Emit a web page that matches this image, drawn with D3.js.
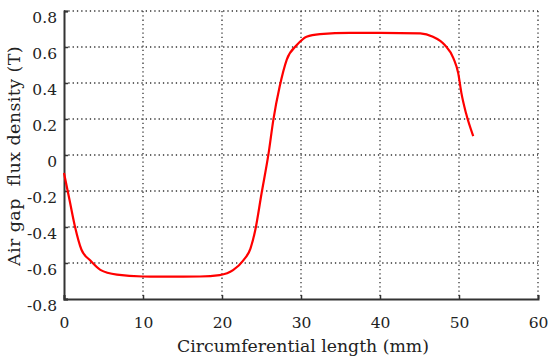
<!DOCTYPE html>
<html>
<head>
<meta charset="utf-8">
<script src="https://cdn.jsdelivr.net/npm/d3@7"></script>
<style>
  body { margin: 0; background: #fff; }
  text { font-family: "DejaVu Serif", serif; fill: #222; }
</style>
</head>
<body>
<svg id="chart" width="550" height="363"></svg>
<script>
// circumferential length (mm) and air gap flux density (T)
var lengthMm = [0, 0.7, 1.4, 2.2, 3.3, 4.6, 6.7, 10, 14, 17.2, 19.7, 21.4, 22.7, 23.6, 24.2, 25.0, 25.9, 26.5, 27.3, 28.2, 29.5, 30.7, 32.4, 36.2, 40, 45.1, 46.7, 48.2, 49.3, 49.9, 50.3, 50.9, 51.8];
var fluxT = [-0.1, -0.25, -0.4, -0.525, -0.585, -0.638, -0.665, -0.675, -0.676, -0.675, -0.667, -0.64, -0.585, -0.52, -0.42, -0.215, 0.01, 0.195, 0.38, 0.53, 0.612, 0.657, 0.672, 0.679, 0.679, 0.676, 0.657, 0.611, 0.537, 0.455, 0.345, 0.23, 0.105];
var xTicks = [0, 10, 20, 30, 40, 50, 60];
var yTicks = [-0.8, -0.6, -0.4, -0.2, 0, 0.2, 0.4, 0.6, 0.8];

var margin = { left: 64, top: 11, right: 12, bottom: 64 };
var width = 538 - margin.left;
var height = 299 - margin.top;

var svg = d3.select("#chart");
var g = svg.append("g").attr("transform", "translate(" + margin.left + "," + margin.top + ")");

var x = d3.scaleLinear().domain([0, 60]).range([0, width]);
var y = d3.scaleLinear().domain([-0.8, 0.8]).range([height, 0]);

// dotted grid
g.append("g")
  .selectAll("line")
  .data(xTicks.slice(1))
  .enter().append("line")
  .attr("x1", function (d) { return x(d); })
  .attr("x2", function (d) { return x(d); })
  .attr("y1", 0).attr("y2", height)
  .attr("stroke", "#333").attr("stroke-width", 1.3)
  .attr("stroke-dasharray", "1.3,3");

g.append("g")
  .selectAll("line")
  .data(yTicks.slice(1))
  .enter().append("line")
  .attr("y1", function (d) { return y(d); })
  .attr("y2", function (d) { return y(d); })
  .attr("x1", 0).attr("x2", width)
  .attr("stroke", "#333").attr("stroke-width", 1.3)
  .attr("stroke-dasharray", "1.3,3");

// plain hyphen for negatives, like the original
var fmt = function (d) { return d === 0 ? "0" : d3.format(".1f")(d).replace("\u2212", "-"); };

var xAxis = g.append("g")
  .attr("transform", "translate(0," + height + ")")
  .call(d3.axisBottom(x).tickValues(xTicks).tickSize(-4).tickPadding(18).tickFormat(d3.format("d")));
var yAxis = g.append("g")
  .call(d3.axisLeft(y).tickValues(yTicks).tickSize(-4).tickPadding(7).tickFormat(fmt));

[xAxis, yAxis].forEach(function (a) {
  a.select(".domain").attr("stroke", "#333").attr("stroke-width", 2);
  a.selectAll(".tick line").attr("stroke", "#333").attr("stroke-width", 1.5);
  a.selectAll("text").attr("font-size", 15.5).attr("font-family", "DejaVu Serif").attr("fill", "#222");
});
yAxis.selectAll("text").attr("dy", "0.75em");

// curve
var line = d3.line()
  .x(function (d, i) { return x(lengthMm[i]); })
  .y(function (d) { return y(d); })
  .curve(d3.curveMonotoneX);

g.append("path")
  .datum(fluxT)
  .attr("d", line)
  .attr("fill", "none")
  .attr("stroke", "#ff0000")
  .attr("stroke-width", 2.2);

svg.append("text")
  .attr("x", 303)
  .attr("y", 352)
  .attr("text-anchor", "middle")
  .attr("font-size", 17.3)
  .text("Circumferential length (mm)");

svg.append("text")
  .attr("transform", "translate(20,156) rotate(-90)")
  .attr("text-anchor", "middle")
  .attr("font-size", 17.5)
  .attr("letter-spacing", 0.4)
  .text("Air gap\u00a0 flux density (T)");
</script>
</body>
</html>
